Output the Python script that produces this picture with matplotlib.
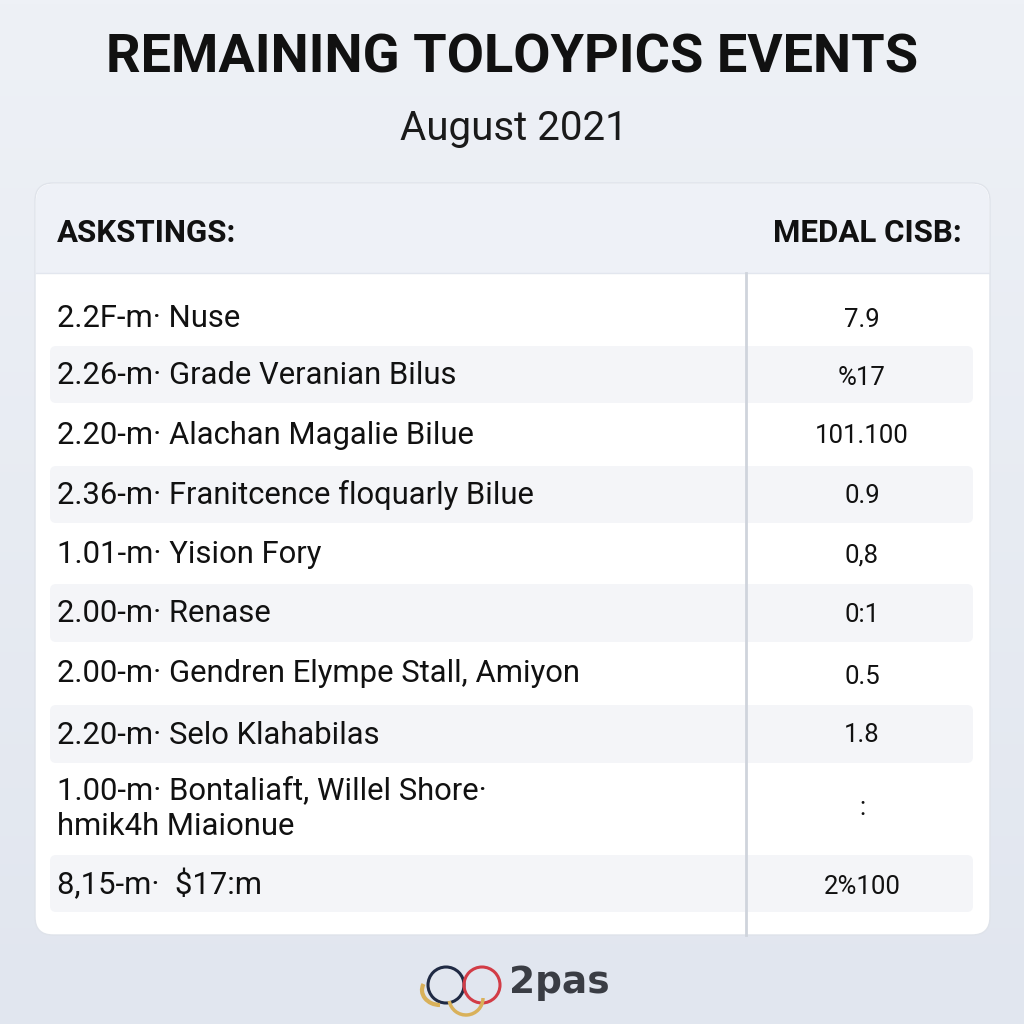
import matplotlib.pyplot as plt
import matplotlib.patches as mpatches
import numpy as np

# table content
title = "REMAINING TOLOYPICS EVENTS"
subtitle = "August 2021"
col_headers = ["ASKSTINGS:", "MEDAL CISB:"]
row_labels = [
    "2.2F-m· Nuse",
    "2.26-m· Grade Veranian Bilus",
    "2.20-m· Alachan Magalie Bilue",
    "2.36-m· Franitcence floquarly Bilue",
    "1.01-m· Yision Fory",
    "2.00-m· Renase",
    "2.00-m· Gendren Elympe Stall, Amiyon",
    "2.20-m· Selo Klahabilas",
    "1.00-m· Bontaliaft, Willel Shore·\nhmik4h Miaionue",
    "8,15-m·  $17:m",
]
row_values = ["7.9", "%17", "101.100", "0.9", "0,8", "0:1", "0.5", "1.8", ":", "2%100"]
footer_brand = "2pas"

FONT = ["Roboto", "DejaVu Sans"]

fig = plt.figure(figsize=(10.24, 10.24), dpi=100)
ax = fig.add_axes([0, 0, 1, 1])
ax.set_xlim(0, 1024)
ax.set_ylim(1024, 0)
ax.axis("off")

# soft background gradient
grad = np.linspace(0, 1, 256).reshape(-1, 1)
ax.imshow(grad, extent=(0, 1024, 1024, 0), cmap=plt.matplotlib.colors.LinearSegmentedColormap.from_list(
    "bg", ["#eef1f6", "#e1e6ef"]), aspect="auto", zorder=0)

# title block
ax.text(512, 58, title, ha="center", va="center", fontsize=39, fontweight="bold",
        family=FONT, color="#111111", zorder=5)
ax.text(514, 128, subtitle, ha="center", va="center", fontsize=29,
        family=FONT, color="#1a1a1a", zorder=5)

# card
card = mpatches.FancyBboxPatch((35, 183), 955, 752, boxstyle="round,pad=0,rounding_size=18",
                               facecolor="white", edgecolor="#dfe3ea", lw=1, zorder=1)
ax.add_patch(card)
header = mpatches.FancyBboxPatch((36, 184), 953, 89, boxstyle="round,pad=0,rounding_size=17",
                                 facecolor="#eef1f7", edgecolor="none", zorder=2)
ax.add_patch(header)
ax.add_patch(mpatches.Rectangle((36, 240), 953, 33, facecolor="#eef1f7", edgecolor="none", zorder=2))
ax.plot([36, 989], [273, 273], color="#e2e6ee", lw=1, zorder=3)

ax.text(57, 233, col_headers[0], ha="left", va="center", fontsize=22.5, fontweight="bold",
        family=FONT, color="#111111", zorder=5)
ax.text(962, 233, col_headers[1], ha="right", va="center", fontsize=22.5, fontweight="bold",
        family=FONT, color="#111111", zorder=5)

# row geometry
row_top = [290, 346, 405, 466, 525, 584, 644, 705, 765, 855]
row_bot = [345, 403, 463, 523, 582, 642, 702, 763, 850, 912]
value_y = [320, 378, 436, 496, 555, 615, 677, 735, 808, 887]

for i, (label, value) in enumerate(zip(row_labels, row_values)):
    top, bot = row_top[i], row_bot[i]
    if i % 2 == 1:
        stripe = mpatches.FancyBboxPatch((50, top), 923, bot - top,
                                         boxstyle="round,pad=0,rounding_size=6",
                                         facecolor="#f4f5f8", edgecolor="none", zorder=2)
        ax.add_patch(stripe)
    ax.text(57, (top + bot) / 2 + 1, label, ha="left", va="center", fontsize=22.3,
            family=FONT, color="#111111", linespacing=1.3, zorder=5)
    ax.text(862, value_y[i], value, ha="center", va="center", fontsize=18.5,
            family=FONT, color="#111111", zorder=5)

# column divider
ax.plot([746, 746], [273, 935], color="#cfd4dc", lw=2, zorder=4)

# footer logo
ax.add_patch(mpatches.Circle((446, 985), 18, fill=False, edgecolor="#1f2a44", lw=2.2, zorder=5))
ax.add_patch(mpatches.Circle((482, 985), 18, fill=False, edgecolor="#d23c46", lw=2.2, zorder=5))
ax.add_patch(mpatches.Arc((440, 990), 36, 30, theta1=90, theta2=200, edgecolor="#d9b15a", lw=3, zorder=6))
ax.add_patch(mpatches.Arc((466, 998), 34, 34, theta1=0, theta2=170, edgecolor="#d9b15a", lw=2.5, zorder=6))
ax.text(509, 983, footer_brand, ha="left", va="center", fontsize=27, fontweight="bold",
        family=["DejaVu Sans"], color="#3a3d44", zorder=5)

fig.savefig("out.png", dpi=100)
